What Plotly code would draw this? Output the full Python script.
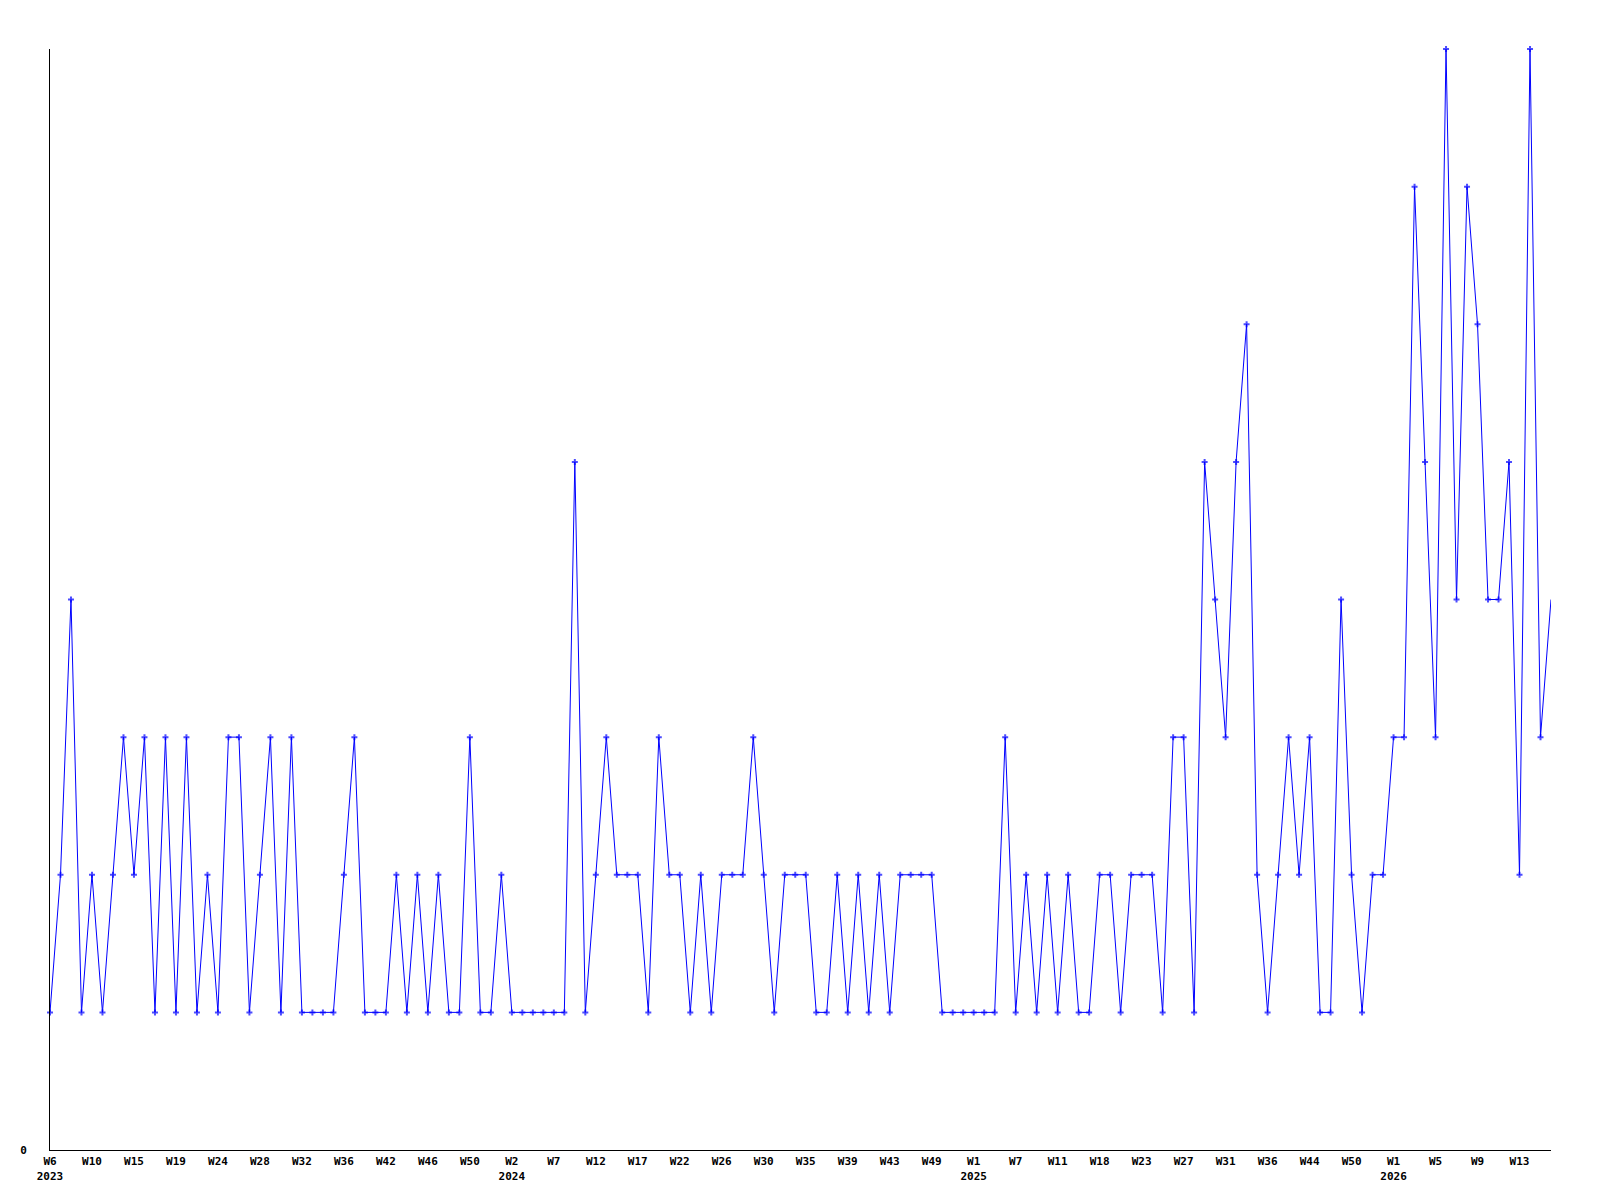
import plotly.graph_objects as go

# --- data -------------------------------------------------------------
weeks_2023 = [6, 7, 8, 9, 10, 11, 12, 13, 15, 16, 17, 18, 19, 20, 21, 22, 24, 25, 26, 27,
              28, 29, 30, 31, 32, 33, 34, 35, 36, 37, 38, 40, 42, 43, 44, 45, 46, 47, 48, 49,
              50, 51, 52]
weeks_2024 = [1, 2, 3, 4, 5, 7, 8, 9, 10, 12, 13, 14, 15, 17, 18, 19, 20, 22, 23, 24, 25,
              26, 27, 28, 29, 30, 31, 32, 34, 35, 36, 37, 38, 39, 40, 41, 42, 43, 44, 46, 47,
              49, 50, 51, 52]
weeks_2025 = [1, 2, 4, 5, 7, 8, 9, 10, 11, 13, 15, 16, 18, 19, 20, 22, 23, 24, 25, 26,
              27, 28, 29, 30, 31, 32, 34, 35, 36, 38, 40, 42, 44, 45, 47, 49, 50, 51, 52, 53]
weeks_2026 = [1, 2, 3, 4, 5, 6, 7, 8, 9, 10, 11, 12, 13, 14, 15, 16]

values = [
    1, 2, 4, 1, 2, 1, 2, 3, 2, 3, 1, 3, 1, 3, 1, 2, 1, 3, 3, 1,
    2, 3, 1, 3, 1, 1, 1, 1, 2, 3, 1, 1, 1, 2, 1, 2, 1, 2, 1, 1,
    3, 1, 1, 2, 1, 1, 1, 1, 1, 1, 5, 1, 2, 3, 2, 2, 2, 1, 3, 2,
    2, 1, 2, 1, 2, 2, 2, 3, 2, 1, 2, 2, 2, 1, 1, 2, 1, 2, 1, 2,
    1, 2, 2, 2, 2, 1, 1, 1, 1, 1, 1, 3, 1, 2, 1, 2, 1, 2, 1, 1,
    2, 2, 1, 2, 2, 2, 1, 3, 3, 1, 5, 4, 3, 5, 6, 2, 1, 2, 3, 2,
    3, 1, 1, 4, 2, 1, 2, 2, 3, 3, 7, 5, 3, 8, 4, 7, 6, 4, 4, 5,
    2, 8, 3, 4,
]

y_ticks = [0]
tick_step = 4

# --- build categories ---------------------------------------------------
categories = []
years = []
week_nums = []
for yr, wl in ((2023, weeks_2023), (2024, weeks_2024), (2025, weeks_2025), (2026, weeks_2026)):
    for w in wl:
        categories.append(f"{yr}-W{w:02d}")
        years.append(yr)
        week_nums.append(w)

tickvals, ticktext = [], []
last_year = None
for i in range(0, len(categories), tick_step):
    label = f"W{week_nums[i]}"
    if years[i] != last_year:
        label += f"<br>{years[i]}"
        last_year = years[i]
    tickvals.append(categories[i])
    ticktext.append(label)

marker_sizes = [5] * (len(values) - 1) + [0]

fig = go.Figure()
fig.add_trace(go.Scatter(
    x=categories, y=values, mode="lines+markers",
    line=dict(color="#0000ff", width=1),
    marker=dict(symbol="cross", size=marker_sizes, color="#0000ff",
                line=dict(width=0)),
    cliponaxis=False, showlegend=False,
))

font = dict(family="DejaVu Sans Mono", size=11, color="black", weight="bold")

fig.update_layout(
    width=1600, height=1200,
    margin=dict(l=42, r=57, t=41, b=58, autoexpand=False),
    paper_bgcolor="white", plot_bgcolor="white",
    font=font,
    xaxis=dict(type="category", categoryorder="array", categoryarray=categories,
               range=[0, len(categories) - 1], automargin=False,
               tickmode="array", tickvals=tickvals, ticktext=ticktext,
               showline=True, linecolor="black", linewidth=1,
               showgrid=False, zeroline=False, ticks="", tickfont=font,
               ticklabelstandoff=1),
    yaxis=dict(range=[0, 8], tickmode="array", tickvals=y_ticks,
               ticktext=[str(v) for v in y_ticks], automargin=False,
               showline=True, linecolor="black", linewidth=1,
               showgrid=False, zeroline=False, ticks="", tickfont=font,
               ticklabelstandoff=20),
)

fig.write_html("out.html")
